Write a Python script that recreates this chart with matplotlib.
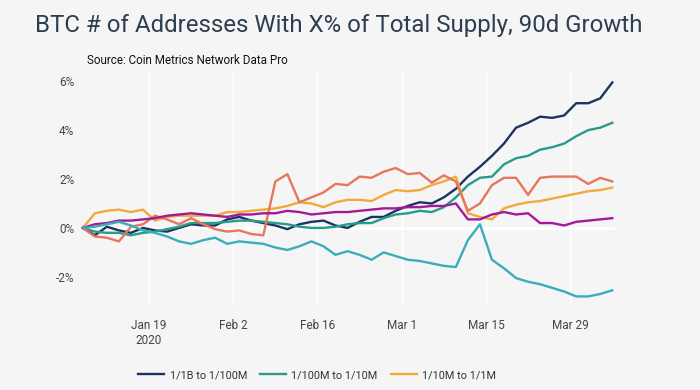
"""
BTC 地址数量 90 天增长（按持有总供应量比例分组）
"""

import matplotlib.pyplot as plt
import pandas as pd

# 数据：每两天一个点
dates = pd.date_range("2020-01-08", periods=45, freq="2D")

series_names = ["1/1B to 1/100M", "1/100M to 1/10M", "1/10M to 1/1M",
                "1/1M to 1/100K", "1/100K to 1/10K", "1/10K to 1/1K"]

b1_100m = [0.0, -0.3, 0.05, -0.1, -0.2, 0.0, -0.1, -0.15, 0.0, 0.15,
           0.1, 0.1, 0.35, 0.45, 0.3, 0.2, 0.1, -0.05, 0.15, 0.25,
           0.3, 0.1, 0.0, 0.25, 0.45, 0.45, 0.7, 0.9, 1.05, 1.0,
           1.25, 1.6, 2.1, 2.5, 2.95, 3.45, 4.1, 4.3, 4.55, 4.5,
           4.6, 5.1, 5.1, 5.3, 5.95]
m100_10m = [0.0, -0.15, -0.2, -0.2, -0.3, -0.2, -0.15, -0.05, 0.05, 0.2,
            0.2, 0.2, 0.25, 0.3, 0.3, 0.25, 0.2, 0.15, 0.05, 0.0,
            0.0, 0.05, 0.15, 0.2, 0.2, 0.4, 0.55, 0.6, 0.7, 0.65,
            0.85, 1.25, 1.75, 2.05, 2.1, 2.6, 2.85, 2.95, 3.2, 3.3,
            3.45, 3.75, 4.0, 4.1, 4.3]
m10_1m = [0.0, 0.6, 0.7, 0.75, 0.65, 0.75, 0.3, 0.45, 0.5, 0.5,
          0.5, 0.5, 0.65, 0.65, 0.7, 0.75, 0.8, 0.9, 1.05, 1.0,
          0.85, 1.05, 1.15, 1.15, 1.1, 1.35, 1.55, 1.5, 1.55, 1.75,
          1.9, 2.1, 0.6, 0.45, 0.35, 0.8, 0.95, 1.05, 1.1, 1.2,
          1.3, 1.4, 1.5, 1.55, 1.65]
m1_100k = [0.0, -0.35, -0.4, -0.55, 0.05, 0.15, 0.5, 0.35, 0.15, 0.4,
           0.15, -0.05, -0.15, -0.1, -0.25, -0.3, 1.9, 2.2, 1.05, 1.25,
           1.45, 1.8, 1.75, 2.1, 2.05, 2.3, 2.45, 2.2, 2.25, 1.85,
           2.15, 1.9, 0.7, 1.0, 1.75, 2.05, 2.05, 1.35, 2.05, 2.1,
           2.1, 2.1, 1.8, 2.05, 1.9]
k100_10k = [0.0, 0.15, 0.2, 0.3, 0.3, 0.35, 0.4, 0.5, 0.55, 0.6,
            0.55, 0.5, 0.45, 0.55, 0.55, 0.6, 0.6, 0.7, 0.65, 0.55,
            0.6, 0.65, 0.65, 0.7, 0.75, 0.8, 0.8, 0.85, 0.85, 0.9,
            0.9, 1.0, 0.35, 0.35, 0.55, 0.65, 0.55, 0.6, 0.2, 0.2,
            0.1, 0.25, 0.3, 0.35, 0.4]
k10_1k = [0.0, 0.05, 0.15, 0.25, 0.1, -0.1, -0.2, -0.35, -0.55, -0.65,
          -0.5, -0.4, -0.65, -0.55, -0.6, -0.65, -0.8, -0.9, -0.75, -0.55,
          -0.75, -1.1, -0.95, -1.1, -1.3, -1.0, -1.15, -1.3, -1.35, -1.45,
          -1.55, -1.6, -0.5, 0.15, -1.3, -1.65, -2.05, -2.2, -2.3, -2.45,
          -2.6, -2.8, -2.8, -2.7, -2.55]

colors = ["#1c3461", "#2a9a8a", "#f2a93b", "#e8765c", "#a3199b", "#3aaeb8"]

x_ticks = pd.to_datetime(["2020-01-19", "2020-02-02", "2020-02-16",
                          "2020-03-01", "2020-03-15", "2020-03-29"])
x_tick_labels = ["Jan 19\n2020", "Feb 2", "Feb 16", "Mar 1", "Mar 15", "Mar 29"]
y_ticks = [-2, 0, 2, 4, 6]

plt.rcParams["font.family"] = ["Roboto", "DejaVu Sans"]
text_color = "#2d3e50"
bg = "#f5f5f5"

fig = plt.figure(figsize=(7, 3.9), dpi=100, facecolor=bg)
ax = fig.add_axes([0.114, 0.218, 0.765, 0.602], facecolor=bg)

fig.text(0.05, 0.965, "BTC # of Addresses With X% of Total Supply, 90d Growth",
         fontsize=17.3, color=text_color, ha="left", va="top")
fig.text(0.124, 0.828, "Source: Coin Metrics Network Data Pro",
         fontsize=8.4, color="#111111", ha="left", va="bottom")

all_series = [b1_100m, m100_10m, m10_1m, m1_100k, k100_10k, k10_1k]
lines = []
for name, vals, c in zip(series_names, all_series, colors):
    ln, = ax.plot(dates, vals, color=c, linewidth=1.7, label=name, zorder=3)
    lines.append(ln)

ax.set_xlim(pd.Timestamp("2020-01-07 12:00"), pd.Timestamp("2020-04-05 12:00"))
ax.set_ylim(-3.15, 6.45)
ax.set_xticks(x_ticks)
ax.set_xticklabels(x_tick_labels)
ax.set_yticks(y_ticks)
ax.set_yticklabels([f"{v}%" for v in y_ticks])
ax.tick_params(length=0, labelsize=8.5, colors="#444444", pad=4)
ax.tick_params(axis="x", pad=10)
ax.grid(axis="x", color="white", linewidth=1)
ax.axhline(0, color="white", linewidth=2, zorder=1)
for s in ax.spines.values():
    s.set_visible(False)

# 图例只显示前三项（原图被截断）
fig.legend(handles=lines[:3], loc="center", bbox_to_anchor=(0.453, 0.038),
           ncol=3, frameon=False, fontsize=7.8, handlelength=2.4,
           handletextpad=0.5, columnspacing=1.2, labelcolor="#333333")

fig.savefig("out.png", dpi=100, facecolor=bg)
